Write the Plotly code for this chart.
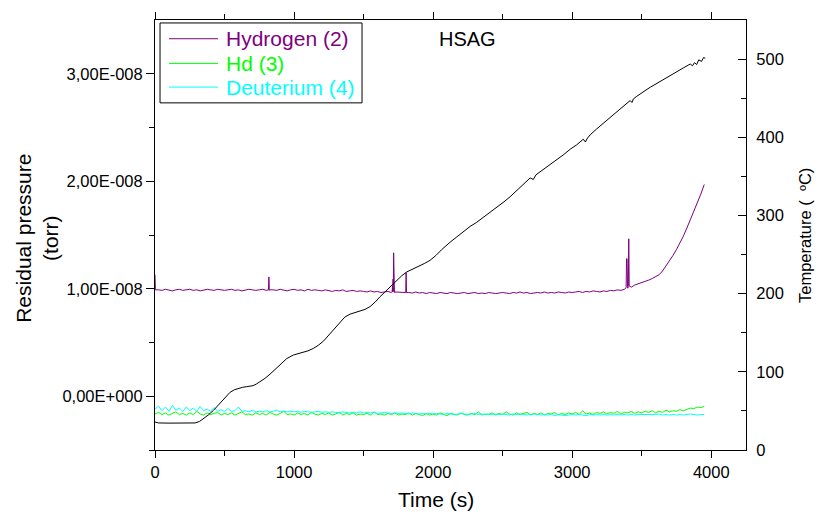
import plotly.graph_objects as go

# ---------------------------------------------------------------------------
# Data: residual gas pressures (units of 1e-8 torr) and sample temperature
# ---------------------------------------------------------------------------
STEP_S = 25  # sampling interval of the mass-spectrometer channels (s)

# Hydrogen (m/z 2), sampled every 25 s starting at t = 0
hydrogen = [
    1.13, 0.99, 0.985, 0.995, 0.99, 0.98, 0.99, 0.995, 0.985, 0.99,
    0.995, 0.985, 0.99, 0.98, 0.99, 0.995, 0.99, 0.985, 0.995, 0.99,
    0.985, 0.99, 0.995, 0.985, 0.99, 0.98, 0.99, 0.995, 0.99, 0.985,
    0.99, 0.995, 0.985, 0.99, 0.99, 0.985, 0.995, 0.99, 0.98, 0.99,
    0.995, 0.985, 0.99, 0.98, 0.995, 0.985, 0.99, 0.985, 0.98, 0.99,
    0.985, 0.975, 0.985, 0.98, 0.99, 0.975, 0.98, 0.985, 0.975, 0.98,
    0.975, 0.97, 0.98, 0.97, 0.975, 0.965, 0.97, 0.975, 0.965, 0.97,
    0.97, 0.965, 0.97, 0.965, 0.96, 0.97, 0.96, 0.965, 0.955, 0.965,
    0.96, 0.955, 0.965, 0.96, 0.955, 0.965, 0.96, 0.955, 0.96, 0.965,
    0.955, 0.96, 0.965, 0.955, 0.96, 0.955, 0.965, 0.96, 0.955, 0.96,
    0.965, 0.96, 0.955, 0.965, 0.96, 0.97, 0.96, 0.965, 0.955, 0.96,
    0.965, 0.96, 0.97, 0.96, 0.965, 0.96, 0.97, 0.965, 0.96, 0.97,
    0.965, 0.97, 0.975, 0.965, 0.975, 0.97, 0.98, 0.975, 0.97, 0.98,
    0.975, 0.985, 0.98, 0.99, 0.985, 0.995, 1.005, 1.015, 1.035, 1.045,
    1.055, 1.065, 1.08, 1.095, 1.11, 1.13, 1.165, 1.21, 1.255, 1.31,
    1.365, 1.425, 1.49, 1.565, 1.64, 1.715, 1.795, 1.88, 1.97,
]

# Short desorption bursts in the hydrogen channel (time s -> pressure)
hydrogen_burst_time = [3, 816, 819, 822,
                       1705, 1708, 1710, 1712, 1714, 1716, 1718, 1720, 1722,
                       1803, 1806, 1809,
                       3388, 3391, 3395, 3398, 3404, 3407, 3410]
hydrogen_burst_value = [0.99, 0.99, 1.11, 0.985,
                        0.975, 1.02, 0.97, 1.09, 0.975, 1.335, 0.97, 1.03, 0.965,
                        0.965, 1.15, 0.965,
                        1.01, 1.28, 1.28, 1.02, 1.03, 1.465, 1.025]

# HD (m/z 3), sampled every 25 s
hd = [
    -0.165, -0.15, -0.17, -0.155, -0.175, -0.16, -0.145, -0.17, -0.16, -0.175,
    -0.155, -0.17, -0.14, -0.165, -0.175, -0.155, -0.17, -0.16, -0.15, -0.175,
    -0.16, -0.17, -0.155, -0.175, -0.16, -0.145, -0.17, -0.165, -0.175, -0.155,
    -0.17, -0.16, -0.175, -0.15, -0.165, -0.175, -0.16, -0.14, -0.17, -0.165,
    -0.175, -0.155, -0.17, -0.16, -0.175, -0.15, -0.165, -0.175, -0.16, -0.17,
    -0.155, -0.175, -0.165, -0.15, -0.175, -0.16, -0.17, -0.155, -0.175, -0.165,
    -0.17, -0.16, -0.175, -0.145, -0.17, -0.165, -0.175, -0.16, -0.17, -0.155,
    -0.175, -0.165, -0.17, -0.155, -0.175, -0.16, -0.17, -0.18, -0.16, -0.175,
    -0.165, -0.175, -0.155, -0.17, -0.18, -0.16, -0.17, -0.175, -0.155, -0.17,
    -0.175, -0.16, -0.17, -0.145, -0.175, -0.165, -0.17, -0.155, -0.175, -0.16,
    -0.17, -0.145, -0.165, -0.175, -0.155, -0.17, -0.16, -0.15, -0.175, -0.16,
    -0.17, -0.155, -0.175, -0.16, -0.165, -0.15, -0.175, -0.16, -0.17, -0.155,
    -0.165, -0.15, -0.17, -0.135, -0.165, -0.155, -0.17, -0.15, -0.16, -0.145,
    -0.165, -0.15, -0.16, -0.14, -0.165, -0.15, -0.155, -0.14, -0.16, -0.145,
    -0.155, -0.14, -0.15, -0.135, -0.155, -0.14, -0.15, -0.13, -0.145, -0.135,
    -0.14, -0.125, -0.135, -0.12, -0.11, -0.115, -0.1, -0.105, -0.095,
]

# Deuterium (m/z 4), sampled every 25 s
deuterium = [
    -0.12, -0.09, -0.135, -0.1, -0.14, -0.085, -0.13, -0.11, -0.14, -0.1,
    -0.135, -0.11, -0.14, -0.095, -0.135, -0.12, -0.14, -0.105, -0.14, -0.125,
    -0.14, -0.115, -0.14, -0.135, -0.1, -0.14, -0.135, -0.145, -0.13, -0.145,
    -0.14, -0.145, -0.135, -0.145, -0.14, -0.13, -0.145, -0.14, -0.145, -0.14,
    -0.145, -0.14, -0.15, -0.14, -0.145, -0.15, -0.145, -0.14, -0.15, -0.145,
    -0.15, -0.145, -0.15, -0.155, -0.145, -0.15, -0.155, -0.15, -0.155, -0.145,
    -0.155, -0.15, -0.155, -0.15, -0.16, -0.155, -0.15, -0.155, -0.16, -0.155,
    -0.16, -0.155, -0.16, -0.165, -0.155, -0.16, -0.165, -0.16, -0.165, -0.16,
    -0.165, -0.16, -0.165, -0.17, -0.16, -0.165, -0.17, -0.165, -0.16, -0.165,
    -0.17, -0.165, -0.16, -0.17, -0.165, -0.17, -0.165, -0.17, -0.165, -0.17,
    -0.165, -0.17, -0.175, -0.165, -0.17, -0.165, -0.17, -0.175, -0.17, -0.165,
    -0.17, -0.175, -0.17, -0.175, -0.17, -0.18, -0.17, -0.175, -0.18, -0.175,
    -0.17, -0.175, -0.17, -0.175, -0.18, -0.17, -0.175, -0.17, -0.175, -0.17,
    -0.175, -0.17, -0.175, -0.17, -0.175, -0.17, -0.175, -0.17, -0.175, -0.17,
    -0.17, -0.175, -0.17, -0.175, -0.17, -0.165, -0.175, -0.17, -0.175, -0.17,
    -0.175, -0.17, -0.175, -0.17, -0.165, -0.17, -0.175, -0.17, -0.17,
]

# Sample temperature (thermocouple) readings
temp_time = [
    0, 25, 100, 200, 288, 320, 348, 385, 420, 450,
    480, 510, 540, 570, 600, 630, 660, 705, 730, 755,
    790, 827, 865, 900, 947, 995, 1030, 1067, 1100, 1139,
    1175, 1211, 1240, 1271, 1300, 1331, 1365, 1403, 1440, 1475,
    1510, 1547, 1585, 1619, 1667, 1700, 1739, 1775, 1811, 1850,
    1900, 1940, 1978, 2020, 2060, 2100, 2122, 2170, 2220, 2266,
    2310, 2360, 2410, 2460, 2510, 2554, 2600, 2650, 2698, 2720,
    2740, 2790, 2842, 2890, 2940, 2986, 3030, 3080, 3095, 3110,
    3129, 3175, 3225, 3273, 3320, 3370, 3417, 3430, 3440, 3465,
    3515, 3561, 3610, 3660, 3705, 3750, 3800, 3849, 3865, 3880,
    3895, 3910, 3930, 3945, 3957,
]
temp_c = [
    35.8, 34.6, 34.4, 34.4, 34.6, 36.5, 40.1, 45.0, 50.6, 56.5,
    63.3, 69.0, 73.8, 77.0, 78.9, 80.2, 81.0, 82.3, 84.5, 87.3,
    91.5, 97.0, 103.5, 109.7, 116.9, 121.5, 123.3, 124.5, 126.8, 130.0,
    134.0, 139.2, 145.0, 151.9, 158.0, 164.6, 170.0, 173.8, 175.8, 177.2,
    179.8, 183.5, 189.5, 196.2, 204.7, 210.5, 217.3, 223.0, 227.8, 231.0,
    235.0, 238.8, 242.6, 248.8, 256.0, 262.5, 265.8, 272.5, 279.6, 286.0,
    290.8, 297.5, 303.8, 310.0, 317.5, 324.0, 331.5, 339.6, 348.0, 346.0,
    352.0, 358.5, 365.0, 371.0, 378.0, 384.8, 390.0, 397.5, 394.0, 399.0,
    403.0, 410.5, 417.8, 426.0, 432.5, 440.0, 447.0, 444.5, 449.0, 452.5,
    458.6, 464.0, 469.0, 474.5, 479.0, 483.5, 488.8, 493.7, 491.5, 495.5,
    493.0, 499.0, 497.0, 502.0, 501.0,
]

# Axis tick labels
pressure_ticks = [0.0, 1.0, 2.0, 3.0]
pressure_tick_text = ["0,00E+000", "1,00E-008", "2,00E-008", "3,00E-008"]
time_ticks = [0, 1000, 2000, 3000, 4000]
temp_ticks = [0, 100, 200, 300, 400, 500]

# Legend entries
legend_labels = ["Hydrogen (2)", "Hd (3)", "Deuterium (4)"]
legend_colors = ["#800080", "#00ff00", "#00ffff"]

# ---------------------------------------------------------------------------
TORR = 1e-8
FONT = "Liberation Sans, Arial, sans-serif"

grid_time = [i * STEP_S for i in range(len(hydrogen))]

# merge the regular hydrogen samples with the burst samples
h2_points = dict(zip(grid_time, hydrogen))
h2_points.update(zip(hydrogen_burst_time, hydrogen_burst_value))
h2_time = sorted(h2_points)
h2_value = [h2_points[t] for t in h2_time]

fig = go.Figure()

series = [(h2_time, h2_value), (grid_time, hd), (grid_time, deuterium)]
for (xs, ys), label, color in zip(series, legend_labels, legend_colors):
    fig.add_trace(go.Scatter(
        x=xs, y=[v * TORR for v in ys], mode="lines", name=label,
        showlegend=False, line=dict(color=color, width=1),
    ))

fig.add_trace(go.Scatter(
    x=temp_time, y=temp_c, mode="lines", yaxis="y2", name="Temperature",
    showlegend=False, line=dict(color="black", width=1),
))

tick_font = dict(family=FONT, size=16.5, color="black")

# legend box drawn in paper coordinates at the upper-left of the plot
LEG_X0, LEG_X1, LEG_Y0, LEG_Y1 = 0.0085, 0.3503, 0.8073, 0.9931
LEG_LINE_X0, LEG_LINE_X1, LEG_TEXT_X = 0.0237, 0.1066, 0.1168
LEG_ROWS_Y = [0.9564, 0.8991, 0.8440]

shapes = [dict(type="rect", xref="paper", yref="paper",
               x0=LEG_X0, x1=LEG_X1, y0=LEG_Y0, y1=LEG_Y1,
               line=dict(color="black", width=1), fillcolor="white", layer="above")]
annotations = []
for label, color, ry in zip(legend_labels, legend_colors, LEG_ROWS_Y):
    shapes.append(dict(type="line", xref="paper", yref="paper",
                       x0=LEG_LINE_X0, x1=LEG_LINE_X1, y0=ry, y1=ry,
                       line=dict(color=color, width=1), layer="above"))
    annotations.append(dict(text=label, x=LEG_TEXT_X, y=ry, xref="paper", yref="paper",
                            xanchor="left", yanchor="middle", showarrow=False,
                            font=dict(family=FONT, size=21, color=color)))

annotations += [
    dict(text="HSAG", x=0.528, y=0.956, xref="paper", yref="paper",
         xanchor="center", yanchor="middle", showarrow=False,
         font=dict(family=FONT, size=20)),
    dict(text="Time (s)", x=0.4755, y=-0.1147, xref="paper", yref="paper",
         xanchor="center", yanchor="middle", showarrow=False,
         font=dict(family=FONT, size=21)),
    dict(text="Residual pressure<br>(torr)", x=-0.2, y=0.493,
         xref="paper", yref="paper", xanchor="center", yanchor="middle",
         textangle=-90, showarrow=False, font=dict(family=FONT, size=21)),
    dict(text="Temperature (\u00a0 \u00baC)", x=1.0998, y=0.5,
         xref="paper", yref="paper", xanchor="center", yanchor="middle",
         textangle=-90, showarrow=False, font=dict(family=FONT, size=16.5)),
]

fig.update_layout(
    width=819, height=520, autosize=False,
    margin=dict(l=155, r=73, t=14, b=70),
    paper_bgcolor="white", plot_bgcolor="white",
    font=dict(family=FONT, color="black"),
    showlegend=False,
    xaxis=dict(
        range=[0, 4250], tickmode="array", tickvals=time_ticks,
        ticks="outside", ticklen=7, tickwidth=1, tickcolor="black",
        showline=True, linecolor="black", linewidth=1, mirror="ticks",
        showgrid=False, zeroline=False, tickfont=tick_font,
        minor=dict(tickmode="array", tickvals=[500, 1500, 2500, 3500],
                   ticks="outside", ticklen=5, tickcolor="black", showgrid=False),
    ),
    yaxis=dict(
        range=[-0.5 * TORR, 3.5 * TORR], tickmode="array",
        tickvals=[v * TORR for v in pressure_ticks], ticktext=pressure_tick_text,
        ticks="outside", ticklen=8, tickwidth=1, tickcolor="black",
        showline=True, linecolor="black", linewidth=1,
        showgrid=False, zeroline=False, tickfont=tick_font,
        minor=dict(tickmode="array",
                   tickvals=[v * TORR for v in (-0.5, 0.5, 1.5, 2.5)],
                   ticks="outside", ticklen=5, tickcolor="black", showgrid=False),
    ),
    yaxis2=dict(
        overlaying="y", side="right", range=[0, 550],
        tickmode="array", tickvals=temp_ticks,
        ticks="inside", ticklen=8, tickwidth=1, tickcolor="black",
        showline=True, linecolor="black", linewidth=1,
        showgrid=False, zeroline=False, tickfont=tick_font,
        ticklabelstandoff=6,
        minor=dict(tickmode="array", tickvals=[50, 150, 250, 350, 450],
                   ticks="inside", ticklen=5, tickcolor="black", showgrid=False),
    ),
    shapes=shapes,
    annotations=annotations,
)

fig.write_html("out.html")
